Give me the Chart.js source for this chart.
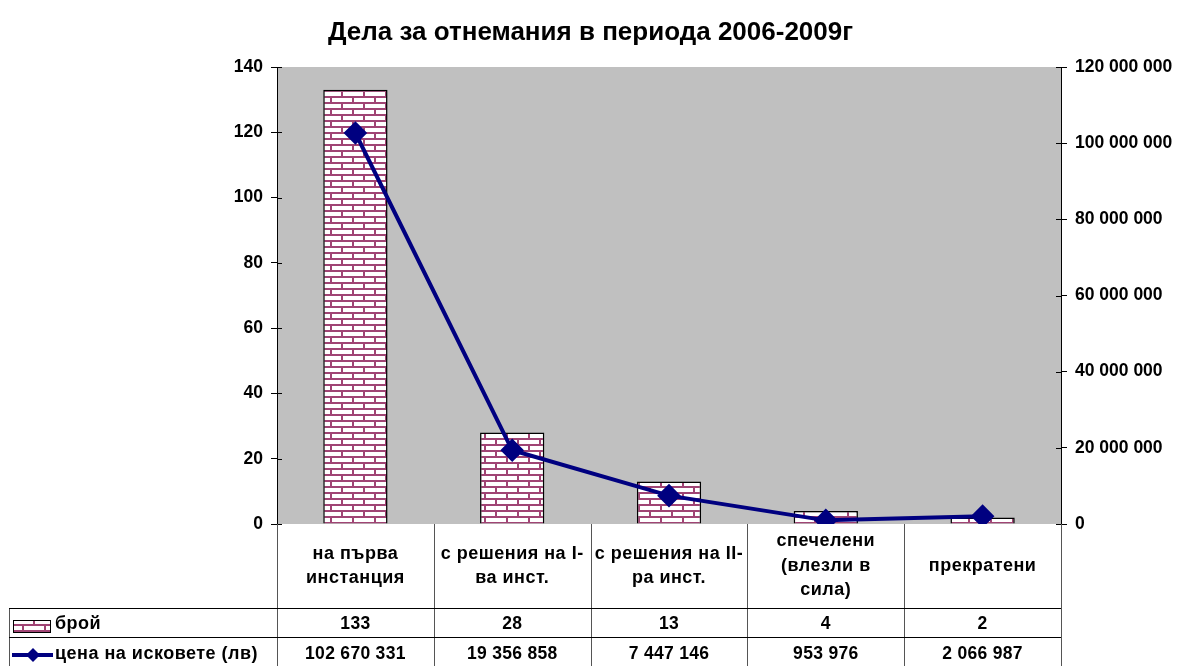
<!DOCTYPE html>
<html>
<head>
<meta charset="utf-8">
<script src="https://cdn.jsdelivr.net/npm/chart.js@4"></script>
<style>
  html, body { margin: 0; padding: 0; background: #fff; }
  #wrap { width: 1181px; height: 666px; }
</style>
</head>
<body>
<div id="wrap"><canvas id="c" width="1181" height="666"></canvas></div>
<script>
const categories = [
  ['на първа', 'инстанция'],
  ['с решения на I-', 'ва инст.'],
  ['с решения на II-', 'ра инст.'],
  ['спечелени', '(влезли в', 'сила)'],
  ['прекратени']
];
const countValues = [133, 28, 13, 4, 2];
const claimValues = [102670331, 19356858, 7447146, 953976, 2066987];
const countLabel = 'брой';
const claimLabel = 'цена на исковете (лв)';
const chartTitle = 'Дела за отнемания в периода 2006-2009г';

const FONT = '"Liberation Sans", Arial, sans-serif';
const MAROON = '#a04474';
const NAVY = '#000080';

function spaced(n) {
  return String(Math.round(n)).replace(/\B(?=(\d{3})+(?!\d))/g, ' ');
}

// brick pattern like the old Excel fill
function brickPattern() {
  const t = document.createElement('canvas');
  t.width = 22; t.height = 12;
  const g = t.getContext('2d');
  g.fillStyle = '#fff';
  g.fillRect(0, 0, 22, 12);
  g.fillStyle = MAROON;
  g.fillRect(0, 0, 22, 2);
  g.fillRect(0, 6, 22, 2);
  g.fillRect(0, 0, 2, 6);
  g.fillRect(11, 6, 2, 6);
  return document.getElementById('c').getContext('2d').createPattern(t, 'repeat');
}
const brick = brickPattern();

const tablePlugin = {
  id: 'dataTable',
  afterDraw(chart) {
    const ctx = chart.ctx;
    const area = chart.chartArea;
    const x = chart.scales.x;
    const top = area.bottom;
    const row1 = 608, row2 = 637, bottom = 666;
    const left = 9;
    const n = categories.length;
    const step = (area.right - area.left) / n;
    ctx.save();

    // inner halves of the axis tick marks (Excel style cross ticks)
    ctx.strokeStyle = '#000';
    ctx.lineWidth = 1;
    ctx.beginPath();
    ['y', 'y2'].forEach(id => {
      const s = chart.scales[id];
      s.ticks.forEach(t => {
        const py = Math.round(s.getPixelForValue(t.value)) + 0.5;
        if (id === 'y') { ctx.moveTo(area.left, py); ctx.lineTo(area.left + 5, py); }
        else { ctx.moveTo(area.right - 5, py); ctx.lineTo(area.right, py); }
      });
    });
    ctx.stroke();

    ctx.strokeStyle = '#555';
    ctx.beginPath();
    for (let i = 0; i <= n; i++) {
      const lx = Math.round(area.left + i * step) + 0.5;
      ctx.moveTo(lx, top); ctx.lineTo(lx, bottom);
    }
    ctx.moveTo(left + 0.5, row1); ctx.lineTo(left + 0.5, bottom);
    ctx.stroke();
    ctx.strokeStyle = '#000';
    ctx.beginPath();
    ctx.moveTo(left, row1 + 0.5); ctx.lineTo(area.right, row1 + 0.5);
    ctx.moveTo(left, row2 + 0.5); ctx.lineTo(area.right, row2 + 0.5);
    ctx.stroke();

    ctx.fillStyle = '#000';
    ctx.textAlign = 'center';
    ctx.textBaseline = 'middle';
    const lh = 24.5;
    categories.forEach((lines, i) => {
      const cx = x.getPixelForValue(i);
      const mid = (top + row1) / 2;
      const y0 = mid - (lines.length - 1) * lh / 2;
      ctx.font = 'bold 18px ' + FONT;
      ctx.letterSpacing = '0.5px';
      lines.forEach((s, j) => ctx.fillText(s, cx, y0 + j * lh));
      ctx.font = 'bold 17.5px ' + FONT;
      ctx.letterSpacing = '0.3px';
      ctx.fillText(String(countValues[i]), cx, (row1 + row2) / 2 + 2);
      ctx.fillText(spaced(claimValues[i]), cx, (row2 + bottom) / 2 + 3);
    });

    // legend keys
    ctx.textAlign = 'left';
    ctx.font = 'bold 18px ' + FONT;
    ctx.letterSpacing = '0.5px';
    ctx.fillText(countLabel, 55, (row1 + row2) / 2 + 2);
    ctx.fillText(claimLabel, 55, (row2 + bottom) / 2 + 3);
    ctx.letterSpacing = '0px';
    ctx.fillStyle = brick;
    ctx.fillRect(13, 620, 37, 12);
    ctx.strokeStyle = '#000';
    ctx.strokeRect(13.5, 620.5, 37, 12);
    ctx.strokeStyle = NAVY;
    ctx.lineWidth = 4;
    ctx.beginPath();
    ctx.moveTo(12, 655); ctx.lineTo(53, 655);
    ctx.stroke();
    ctx.fillStyle = NAVY;
    ctx.beginPath();
    ctx.moveTo(33, 648); ctx.lineTo(40, 655); ctx.lineTo(33, 662); ctx.lineTo(26, 655);
    ctx.closePath();
    ctx.fill();
    ctx.restore();
  }
};

const plotBg = {
  id: 'plotBg',
  beforeDraw(chart) {
    const a = chart.chartArea;
    chart.ctx.save();
    chart.ctx.fillStyle = '#c0c0c0';
    chart.ctx.fillRect(a.left, a.top, a.right - a.left, a.bottom - a.top);
    chart.ctx.restore();
  }
};

const tickFont = { family: FONT, size: 17.5, weight: 'bold' };

new Chart(document.getElementById('c'), {
  data: {
    labels: categories,
    datasets: [
      {
        type: 'line',
        label: claimLabel,
        data: claimValues,
        yAxisID: 'y2',
        borderColor: NAVY,
        backgroundColor: NAVY,
        borderWidth: 4,
        pointStyle: 'rectRot',
        pointRadius: 9,
        pointHoverRadius: 9,
        tension: 0,
        order: 0
      },
      {
        type: 'bar',
        label: countLabel,
        data: countValues,
        yAxisID: 'y',
        backgroundColor: brick,
        borderColor: '#000',
        borderWidth: 1.5,
        categoryPercentage: 1,
        barPercentage: 0.41,
        order: 1
      }
    ]
  },
  options: {
    responsive: false,
    animation: false,
    layout: { padding: { left: 0, right: 0, top: 0, bottom: 142 } },
    plugins: {
      legend: { display: false },
      tooltip: { enabled: false },
      title: {
        display: true,
        text: chartTitle,
        color: '#000',
        font: { family: FONT, size: 26, weight: 'bold' },
        padding: { top: 17, bottom: 18.8 }
      }
    },
    scales: {
      x: {
        display: false,
        offset: true
      },
      y: {
        position: 'left',
        min: 0, max: 140,
        ticks: { stepSize: 20, color: '#000', padding: 8, font: tickFont },
        grid: { drawOnChartArea: false, tickLength: 6, color: '#000' },
        border: { color: '#000', width: 1 },
        afterFit(s) { s.width = 277; }
      },
      y2: {
        position: 'right',
        min: 0, max: 120000000,
        ticks: {
          stepSize: 20000000, color: '#000', padding: 8, font: tickFont,
          callback: v => spaced(v)
        },
        grid: { drawOnChartArea: false, tickLength: 6, color: '#000' },
        border: { color: '#000', width: 1 },
        afterFit(s) { s.width = 120; }
      }
    }
  },
  plugins: [plotBg, tablePlugin]
});
</script>
</body>
</html>
